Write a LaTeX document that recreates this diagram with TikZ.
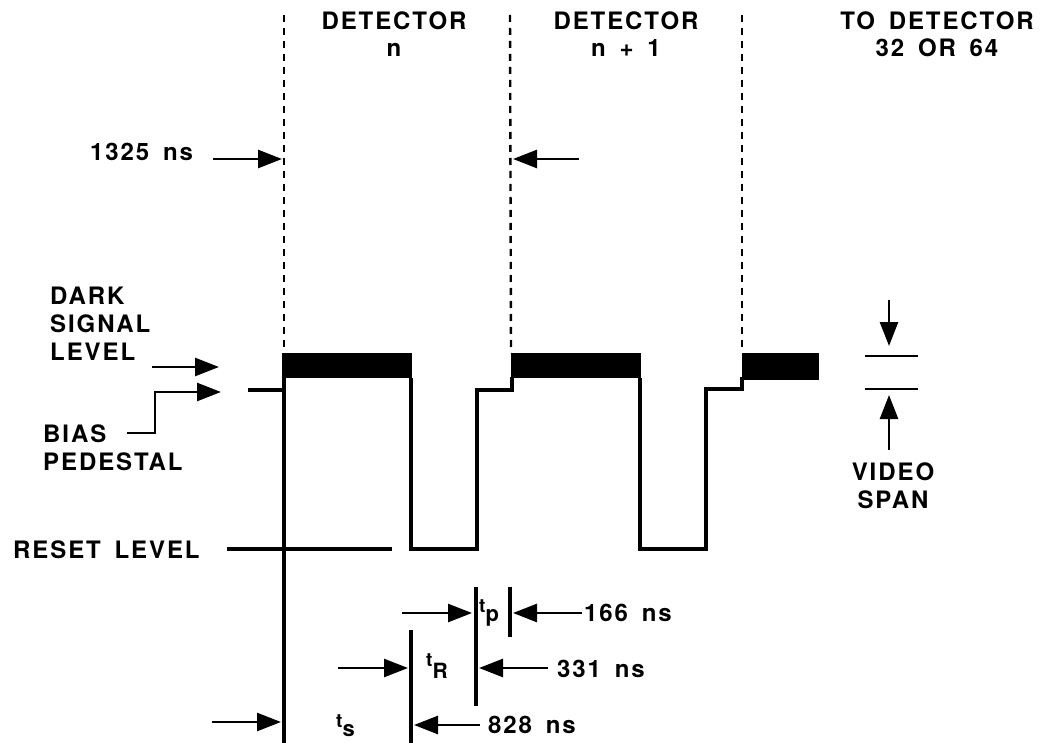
\documentclass[tikz,border=0pt]{standalone}
\usepackage{fontspec}
\setmainfont{TeX Gyre Heros}[LetterSpace=8, WordSpace=1.6]
\usetikzlibrary{arrows.meta}
\tikzset{
  lbl/.style={font=\fontsize{24}{26.5}\selectfont\bfseries, inner sep=0pt, align=center},
  lbll/.style={lbl, font=\fontsize{24}{28}\selectfont\bfseries, align=left},
  sublbl/.style={font=\fontsize{19}{20}\selectfont\bfseries, inner sep=0pt},
  sig/.style={line width=3.2pt, line join=miter},
  sepline/.style={line width=2.4pt, dash pattern=on 7pt off 6pt},
  arr/.style={line width=2.6pt, -{Triangle[length=24pt,width=18pt]}},
  tickline/.style={line width=2.8pt},
  bar/.style={fill=black, draw=none}
}
\begin{document}
\begin{tikzpicture}[x=1pt,y=-1pt]
\useasboundingbox[fill=white] (0,0) rectangle (1043,743);

% separating dashed lines
\coordinate (s1t) at (284,15);  \coordinate (s1b) at (284,353);
\coordinate (s2t) at (510,15);  \coordinate (s2b) at (511,353);
\coordinate (s3t) at (742,15);  \coordinate (s3b) at (742,353);
\draw[sepline] (s1t) -- (s1b);
\draw[sepline] (s2t) -- (s2b);
\draw[sepline] (s3t) -- (s3b);

% headers
\node[lbl, anchor=north] (h1) at (394,12) {DETECTOR\\n};
\node[lbl, anchor=north] (h2) at (626,12) {DETECTOR\\n + 1};
\node[lbl, anchor=north] (h3) at (937,12) {TO DETECTOR\\32 OR 64};

% 1325 ns
\node[lbl, anchor=base west] (t1325) at (90,161) {1325 ns};
\coordinate (a1s) at (213,159); \coordinate (a1e) at (282,159);
\coordinate (a2s) at (579,159); \coordinate (a2e) at (513,159);
\draw[arr] (a1s) -- (a1e);
\draw[arr] (a2s) -- (a2e);

% dark signal bars
\fill[bar] (283,353) rectangle (412,378);
\fill[bar] (511,353) rectangle (641,378);
\fill[bar] (742,353) rectangle (819,380);

% waveform
\coordinate (b0) at (248,390);
\coordinate (b1) at (284,390);
\draw[sig] (b0) -- (b1);
\coordinate (v0t) at (284,353); \coordinate (v0b) at (284,745);
\draw[sig] (v0t) -- (v0b);
\draw[sig] (411,378) -- (411,549) -- (477,549) -- (477,390) -- (512,390) -- (512,377);
\draw[sig] (640,378) -- (640,549) -- (706,549) -- (706,389) -- (742,389) -- (742,377);

% reset level
\node[lbl, anchor=base west] (reset) at (13,558) {RESET LEVEL};
\coordinate (r0) at (227,549); \coordinate (r1) at (392,549);
\draw[sig] (r0) -- (r1);

% dark signal / bias labels
\node[lbll, anchor=north west] (dark) at (50,287) {DARK\\SIGNAL\\LEVEL};
\node[lbll, anchor=north west] (bias) at (43,425) {BIAS\\PEDESTAL};
\coordinate (d0) at (152,367); \coordinate (d1) at (219,367);
\draw[arr] (d0) -- (d1);
\coordinate (p0) at (127,433); \coordinate (p1) at (155,433);
\coordinate (p2) at (155,392); \coordinate (p3) at (221,392);
\draw[arr] (p0) -- (p1) -- (p2) -- (p3);

% video span
\coordinate (vs1a) at (865,356); \coordinate (vs1b) at (918,356);
\coordinate (vs2a) at (865,389); \coordinate (vs2b) at (918,389);
\draw[tickline] (vs1a) -- (vs1b);
\draw[tickline] (vs2a) -- (vs2b);
\coordinate (vd0) at (889,300); \coordinate (vd1) at (889,346);
\coordinate (vu0) at (889,450); \coordinate (vu1) at (889,395);
\draw[arr] (vd0) -- (vd1);
\draw[arr] (vu0) -- (vu1);
\node[lbll, align=center, anchor=north] (video) at (893,463) {VIDEO\\SPAN};

% timing marks
\coordinate (tpl0) at (476,587); \coordinate (tpl1) at (476,706);
\coordinate (tpr0) at (510,587); \coordinate (tpr1) at (510,637);
\coordinate (trl0) at (411,630); \coordinate (trl1) at (411,745);
\draw[sig] (tpl0) -- (tpl1);
\draw[sig] (tpr0) -- (tpr1);
\draw[sig] (trl0) -- (trl1);

\node[sublbl, anchor=base west] (tp) at (479,612) {t\raisebox{-9pt}{\fontsize{22}{22}\selectfont p}};
\node[sublbl, anchor=base west] (tr) at (426,666) {t\raisebox{-12pt}{\fontsize{21}{22}\selectfont R}};
\node[sublbl, anchor=base west] (ts) at (336,727) {t\raisebox{-9pt}{\fontsize{22}{22}\selectfont s}};

\coordinate (ap0) at (402,613); \coordinate (ap1) at (472,613);
\coordinate (aq0) at (582,613); \coordinate (aq1) at (513,613);
\draw[arr] (ap0) -- (ap1);
\draw[arr] (aq0) -- (aq1);
\node[lbl, anchor=base west] (n166) at (584,621) {166 ns};

\coordinate (ar0) at (338,668); \coordinate (ar1) at (408,668);
\coordinate (as0) at (548,668); \coordinate (as1) at (479,668);
\draw[arr] (ar0) -- (ar1);
\draw[arr] (as0) -- (as1);
\node[lbl, anchor=base west] (n331) at (557,677) {331 ns};

\coordinate (at0) at (212,722); \coordinate (at1) at (281,722);
\coordinate (au0) at (480,725); \coordinate (au1) at (414,725);
\draw[arr] (at0) -- (at1);
\draw[arr] (au0) -- (au1);
\node[lbl, anchor=base west] (n828) at (488,733) {828 ns};
\end{tikzpicture}
\end{document}
